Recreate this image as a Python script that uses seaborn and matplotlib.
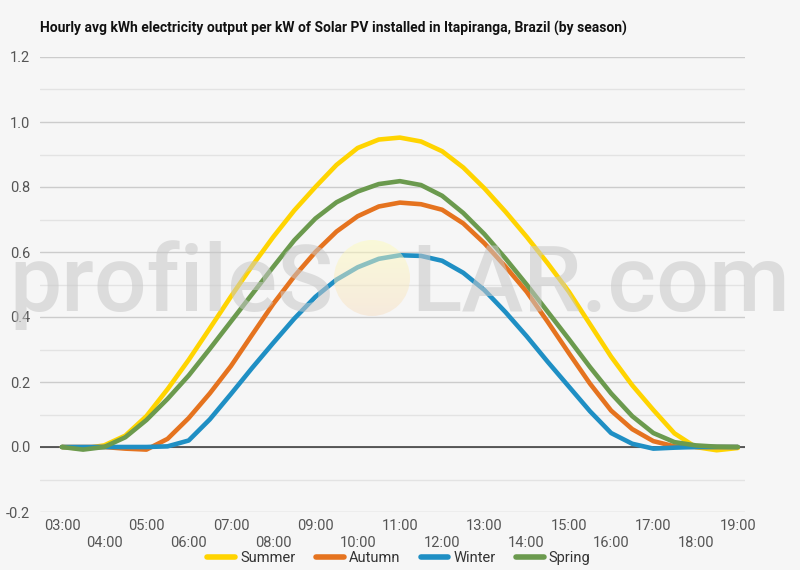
import numpy as np
import pandas as pd
import matplotlib
matplotlib.use('Agg')
import matplotlib.pyplot as plt
from matplotlib.patches import Ellipse
from matplotlib.colors import LinearSegmentedColormap
import seaborn as sns

# half-hourly readings, 03:00 .. 19:00
hours = [3.0, 3.5, 4.0, 4.5, 5.0, 5.5, 6.0, 6.5, 7.0, 7.5, 8.0, 8.5, 9.0, 9.5,
         10.0, 10.5, 11.0, 11.5, 12.0, 12.5, 13.0, 13.5, 14.0, 14.5, 15.0, 15.5,
         16.0, 16.5, 17.0, 17.5, 18.0, 18.5, 19.0]

summer = [0.000, -0.005, 0.005, 0.035, 0.095, 0.178, 0.268, 0.365, 0.463, 0.557,
          0.646, 0.728, 0.800, 0.868, 0.920, 0.946, 0.952, 0.940, 0.910, 0.860,
          0.796, 0.724, 0.647, 0.565, 0.478, 0.378, 0.278, 0.190, 0.114, 0.042,
          0.000, -0.010, -0.003]
autumn = [0.000, 0.000, 0.000, -0.005, -0.008, 0.025, 0.089, 0.165, 0.249, 0.345,
          0.440, 0.525, 0.600, 0.663, 0.710, 0.740, 0.752, 0.747, 0.730, 0.688,
          0.627, 0.555, 0.478, 0.385, 0.289, 0.195, 0.112, 0.055, 0.018, 0.002,
          0.000, 0.000, 0.000]
winter = [0.000, 0.000, 0.000, 0.000, 0.000, 0.002, 0.020, 0.085, 0.163, 0.243,
          0.320, 0.395, 0.462, 0.515, 0.553, 0.579, 0.590, 0.588, 0.573, 0.536,
          0.483, 0.415, 0.341, 0.262, 0.186, 0.110, 0.043, 0.010, -0.005, -0.002,
          0.000, 0.000, 0.000]
spring = [0.000, -0.008, 0.000, 0.030, 0.083, 0.148, 0.220, 0.302, 0.386, 0.470,
          0.554, 0.636, 0.703, 0.753, 0.786, 0.809, 0.818, 0.806, 0.773, 0.720,
          0.655, 0.580, 0.500, 0.416, 0.332, 0.246, 0.165, 0.095, 0.043, 0.015,
          0.005, 0.001, 0.000]

seasons = ['Summer', 'Autumn', 'Winter', 'Spring']
season_colors = {'Summer': '#FFD400', 'Autumn': '#E5731F',
                 'Winter': '#1F8FC4', 'Spring': '#6B9A4E'}

odd_hours = [3, 5, 7, 9, 11, 13, 15, 17, 19]
odd_labels = ['03:00', '05:00', '07:00', '09:00', '11:00', '13:00', '15:00', '17:00', '19:00']
even_hours = [4, 6, 8, 10, 12, 14, 16, 18]
even_labels = ['04:00', '06:00', '08:00', '10:00', '12:00', '14:00', '16:00', '18:00']
y_ticks = [-0.2, 0.0, 0.2, 0.4, 0.6, 0.8, 1.0, 1.2]
y_labels = ['-0.2', '0.0', '0.2', '0.4', '0.6', '0.8', '1.0', '1.2']
y_minor = [-0.1, 0.1, 0.3, 0.5, 0.7, 0.9, 1.1]

title = 'Hourly avg kWh electricity output per kW of Solar PV installed in Itapiranga, Brazil (by season)'

values = {'Summer': summer, 'Autumn': autumn, 'Winter': winter, 'Spring': spring}
df = pd.concat([pd.DataFrame({'hour': hours, 'kwh': values[s], 'season': s}) for s in seasons],
               ignore_index=True)

sns.set_theme(style='white')
plt.rcParams['font.family'] = ['Roboto', 'DejaVu Sans']

bg = '#f6f6f6'
text_grey = '#555555'

fig = plt.figure(figsize=(8, 5.7), dpi=100, facecolor=bg)
ax = fig.add_axes([40 / 800, 1 - 512 / 570, 705 / 800, 455 / 570])
ax.set_facecolor(bg)

sns.lineplot(data=df, x='hour', y='kwh', hue='season', hue_order=seasons,
             palette=season_colors, linewidth=3.3, ax=ax, legend=True)

for line in ax.lines:
    line.set_solid_capstyle('round')
    line.set_solid_joinstyle('round')

ax.axhline(0, color='#333333', linewidth=1.1, zorder=1.5)

ax.set_xlim(2.48, 19.17)
ax.set_ylim(-0.2, 1.2)
ax.set_yticks(y_ticks)
ax.set_yticklabels(y_labels)
ax.set_yticks(y_minor, minor=True)
ax.set_xticks(odd_hours)
ax.set_xticklabels(odd_labels)
ax.set_xticks(even_hours, minor=True)
ax.set_xticklabels(even_labels, minor=True)

ax.grid(which='major', axis='y', color='#cccccc', linewidth=1)
ax.grid(which='minor', axis='y', color='#e3e3e3', linewidth=1)
ax.grid(axis='x', visible=False)
ax.set_axisbelow(True)

ax.tick_params(axis='x', which='major', length=0, pad=5, labelsize=10.5, labelcolor=text_grey)
ax.tick_params(axis='x', which='minor', length=0, pad=17.5, labelsize=10.5, labelcolor=text_grey)
ax.tick_params(axis='y', which='both', length=0, pad=7, labelsize=10.5, labelcolor=text_grey)
ax.set_xlabel('')
ax.set_ylabel('')
for spine in ax.spines.values():
    spine.set_visible(False)

handles, labels = ax.get_legend_handles_labels()
ax.legend(handles, labels, loc='center', bbox_to_anchor=(399 / 800, 1 - 558 / 570),
          bbox_transform=fig.transFigure, ncol=4, frameon=False, handlelength=1.9,
          handletextpad=0.35, columnspacing=1.4, fontsize=10.5, labelcolor='#333333')
for h in ax.get_legend().get_lines():
    h.set_linewidth(4)

fig.text(40 / 800, 1 - 28 / 570, title, fontsize=10, fontweight='bold',
         color='#111111', va='center')

# watermark
wm = dict(fontsize=67, fontweight='medium', color='#c8c8c8', alpha=0.55,
          va='baseline', zorder=5)
fig.text(334 / 800, 1 - 311 / 570, 'profileS', ha='right', **wm)
fig.text(411 / 800, 1 - 311 / 570, 'LAR.com', ha='left', **wm)

ax_sun = fig.add_axes([(372 - 38) / 800, 1 - (278 + 38) / 570, 76 / 800, 76 / 570])
ax_sun.set_zorder(4)
ax_sun.axis('off')
ax_sun.patch.set_alpha(0)
sun_cmap = LinearSegmentedColormap.from_list('sun', ['#fffdbb', '#f8dfc3'])
grad = np.linspace(0, 1, 100).reshape(-1, 1)
im = ax_sun.imshow(grad, cmap=sun_cmap, extent=[0, 1, 0, 1], aspect='auto', alpha=0.5)
im.set_clip_path(Ellipse((0.5, 0.5), 1, 1, transform=ax_sun.transAxes))

fig.savefig('out.png', dpi=100, facecolor=fig.get_facecolor())
